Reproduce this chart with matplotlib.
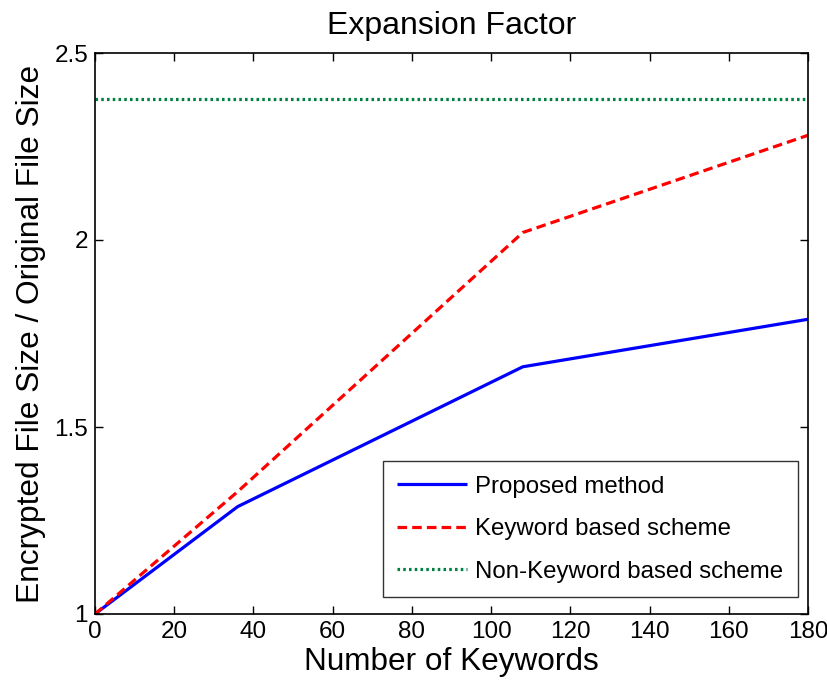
import matplotlib
matplotlib.use("Agg")
import matplotlib.pyplot as plt

keywords = [0, 36, 108, 180]
proposed = [1.0, 1.287, 1.661, 1.788]
keyword_based = [1.0, 1.327, 2.02, 2.28]
non_keyword = [2.377, 2.377, 2.377, 2.377]

plt.rcParams['font.family'] = ['Liberation Sans', 'DejaVu Sans']

fig = plt.figure(figsize=(8.28, 6.83), dpi=100)
ax = fig.add_axes([95/828, 69/683, 713/828, 561/683])

ax.plot(keywords, proposed, color='#0000ff', lw=2.3, solid_capstyle='butt', label='Proposed method')
ax.plot(keywords, keyword_based, color='#ff0000', lw=2.3, linestyle=(0, (3, 1.6)), label='Keyword based scheme')
ax.plot(keywords, non_keyword, color='#008040', lw=2.3, linestyle=(0, (0.8, 1.0)), label='Non-Keyword based scheme')

ax.set_xlim(0, 180)
ax.set_ylim(1, 2.5)
ax.set_xticks(range(0, 181, 20))
ax.set_yticks([1, 1.5, 2, 2.5])
ax.set_yticklabels(['1', '1.5', '2', '2.5'])
ax.tick_params(direction='in', top=True, right=True, length=6, width=1, labelsize=17.5, pad=5)
for s in ax.spines.values():
    s.set_linewidth(1.2)

ax.set_xlabel('Number of Keywords', fontsize=22.7, labelpad=3)
ax.set_ylabel('Encrypted File Size / Original File Size', fontsize=22.8, labelpad=6)
ax.set_title('Expansion Factor', fontsize=23, pad=14)

leg = ax.legend(loc='lower right', bbox_to_anchor=(798/828, 86/683), bbox_transform=fig.transFigure,
                borderaxespad=0, fontsize=17.3, frameon=True, fancybox=False, edgecolor='black',
                borderpad=0.6, labelspacing=0.85, handlelength=2.9, handletextpad=0.35)
leg.get_frame().set_linewidth(1.0)

fig.savefig('out.png', dpi=100)
